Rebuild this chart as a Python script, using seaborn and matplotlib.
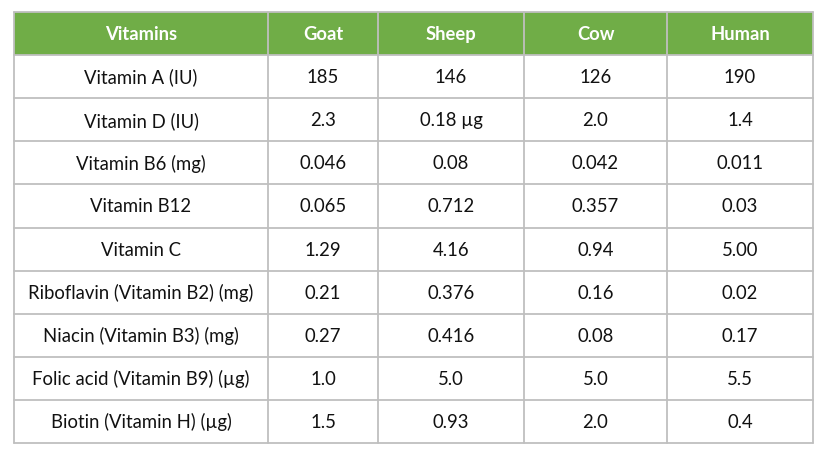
import matplotlib
matplotlib.use("Agg")
import matplotlib.pyplot as plt
import seaborn as sns
import pandas as pd

# Table contents (kept as text, the way the source table shows them)
vitamins = [
    "Vitamin A (IU)", "Vitamin D (IU)", "Vitamin B6 (mg)", "Vitamin B12",
    "Vitamin C", "Riboflavin (Vitamin B2) (mg)", "Niacin (Vitamin B3) (mg)",
    "Folic acid (Vitamin B9) (µg)", "Biotin (Vitamin H) (µg)",
]
goat = ["185", "2.3", "0.046", "0.065", "1.29", "0.21", "0.27", "1.0", "1.5"]
sheep = ["146", "0.18 µg", "0.08", "0.712", "4.16", "0.376", "0.416", "5.0", "0.93"]
cow = ["126", "2.0", "0.042", "0.357", "0.94", "0.16", "0.08", "5.0", "2.0"]
human = ["190", "1.4", "0.011", "0.03", "5.00", "0.02", "0.17", "5.5", "0.4"]
headers = ["Vitamins", "Goat", "Sheep", "Cow", "Human"]

df = pd.DataFrame({"Vitamins": vitamins, "Goat": goat, "Sheep": sheep,
                   "Cow": cow, "Human": human})

# layout in pixels
W, H = 830, 452
col_edges = [14, 268, 378, 524, 667, 813]
top, bottom = 13, 444
row_h = (bottom - top) / (len(df) + 1)
GREEN = "#70AD47"
GRID = "#BFBFBF"

sns.set_style("white")
plt.rcParams["font.family"] = ["Lato", "DejaVu Sans"]

fig = plt.figure(figsize=(W / 100, H / 100), dpi=100)
ax = fig.add_axes([0, 0, 1, 1])
ax.set_xlim(0, W)
ax.set_ylim(H, 0)
ax.axis("off")
renderer = fig.canvas.get_renderer()


def fit_size(label, target_px, weight="normal"):
    # pick a font size so that the label is about target_px wide
    t = ax.text(0, 0, label, fontsize=10, fontweight=weight)
    w = t.get_window_extent(renderer).width
    t.remove()
    return 10 * target_px / w


body_fs = fit_size("Riboflavin (Vitamin B2) (mg)", 226)
head_fs = fit_size("Vitamins", 72, "bold")

# header band
ax.fill_between([col_edges[0], col_edges[-1]], top, top + row_h, color=GREEN, lw=0)

for j, name in enumerate(headers):
    cx = (col_edges[j] + col_edges[j + 1]) / 2
    ax.text(cx, top + row_h / 2, name, ha="center", va="center",
            color="white", fontsize=head_fs, fontweight="bold")
    for i, val in enumerate(df[name]):
        cy = top + row_h * (i + 1.5)
        ax.text(cx, cy, val, ha="center", va="center",
                color="#111111", fontsize=body_fs)

# grid lines
for k in range(len(df) + 2):
    y = top + row_h * k
    ax.plot([col_edges[0], col_edges[-1]], [y, y], color=GRID, lw=1.3)
for x in col_edges:
    ax.plot([x, x], [top, bottom], color=GRID, lw=1.3)

fig.savefig("out.png", dpi=100, facecolor="white")
